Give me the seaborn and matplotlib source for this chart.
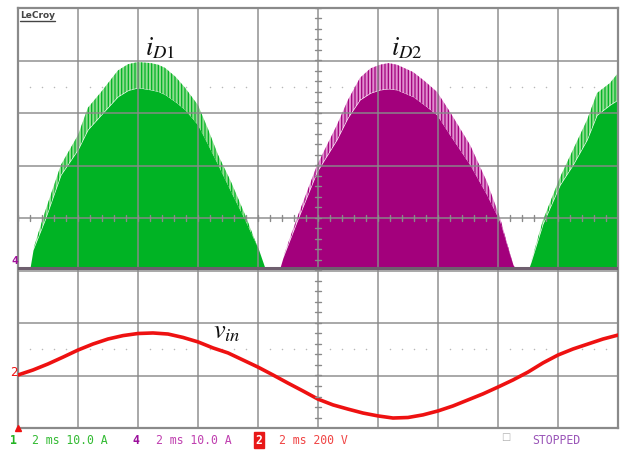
import numpy as np
import pandas as pd
import seaborn as sns
import matplotlib.pyplot as plt

# ---- scope settings ----
MS_PER_DIV = 2.0          # time base
AMP_PER_DIV = 10.0        # channels 1 and 4
VOLT_PER_DIV = 200.0      # channel 2
CUR_OFFSET_DIV = -0.95    # ground level of the current channels
VOLT_OFFSET_DIV = -3.0    # ground level of the voltage channel

# ---- diode current iD1 (channel 1), first conduction interval ----
t_d1 = [0.40, 0.50, 0.90, 1.43, 2.00, 2.33, 2.77, 3.33, 3.67, 4.00, 4.43,
        4.67, 4.90, 5.25, 5.57, 6.00, 6.33, 6.67, 7.10, 7.57, 8.00, 8.23]
peak_d1 = [0, 3.4, 10.7, 19.6, 25.3, 30.5, 33.5, 37.6, 38.8, 39.2, 39.0,
           38.7, 38.1, 36.4, 34.3, 31.0, 26.5, 21.5, 16.4, 10.1, 3.8, 0]
fill_d1 = [0, 3.4, 9.1, 17.7, 22.5, 26.3, 29.1, 32.6, 33.8, 34.3, 33.9,
           33.6, 33.0, 31.6, 30.1, 27.2, 23.5, 19.6, 14.5, 9.1, 3.8, 0]

# ---- diode current iD2 (channel 4) ----
t_d2 = [8.73, 8.83, 9.30, 9.97, 10.63, 11.00, 11.40, 11.75, 12.07, 12.35,
        12.63, 13.17, 13.55, 13.97, 14.40, 15.07, 15.63, 16.07, 16.50, 16.57]
peak_d2 = [0, 1.9, 9.5, 19.6, 27.2, 32.0, 36.2, 38.0, 38.7, 39.0,
           38.7, 37.3, 35.6, 33.5, 29.7, 23.4, 16.4, 9.5, 0.6, 0]
fill_d2 = [0, 1.9, 8.8, 18.3, 24.4, 28.6, 32.0, 33.3, 33.9, 34.1,
           33.9, 32.6, 31.0, 29.1, 25.3, 19.6, 13.9, 8.8, 0.6, 0]

# ---- iD1, next conduction interval ----
t_d1b = [17.03, 17.10, 17.50, 18.07, 18.50, 18.97, 19.30, 19.73, 20.00]
peak_d1b = [0, 1.1, 9.1, 17.3, 22.5, 28.2, 33.3, 35.2, 37.1]
fill_d1b = [0, 1.1, 8.4, 15.8, 19.6, 24.4, 29.1, 31.0, 32.0]

# ---- input voltage vin (channel 2) ----
t_vin = [0.0, 0.5, 1.0, 1.5, 2.0, 2.5, 3.0, 3.5, 4.0, 4.5, 5.0, 5.5,
         6.0, 6.5, 7.0, 7.5, 8.0, 8.5, 9.0, 9.5, 10.0, 10.5, 11.0, 11.5,
         12.0, 12.5, 13.0, 13.5, 14.0, 14.5, 15.0, 15.5, 16.0, 16.5, 17.0,
         17.5, 18.0, 18.5, 19.0, 19.5, 20.0]
v_vin = [2, 21, 44, 70, 97, 120, 139, 152, 160, 162, 158, 145,
         128, 105, 86, 59, 32, 2, -29, -59, -90, -112, -128, -143,
         -154, -162, -160, -150, -135, -116, -93, -70, -44, -17, 13,
         48, 78, 101, 120, 139, 154]

GREEN = "#00b324"
GREEN_LIGHT = "#8fdc8f"
MAGENTA = "#a3007c"
MAGENTA_LIGHT = "#e08fcf"
RED = "#ee1111"
GRID = "#8a8a8a"

sns.set_style("white")
plt.rcParams["hatch.linewidth"] = 0.9
plt.rcParams["mathtext.fontset"] = "stix"

W, H = 623, 451
fig = plt.figure(figsize=(W / 100, H / 100), dpi=100)
ax = fig.add_axes([18 / W, 23 / H, 600 / W, 420 / H])


def cur_div(a):
    return np.asarray(a, dtype=float) / AMP_PER_DIV + CUR_OFFSET_DIV


def volt_div(v):
    return np.asarray(v, dtype=float) / VOLT_PER_DIV + VOLT_OFFSET_DIV


# current traces: solid body plus the switching-ripple band on top
for t, pk, fl, c, cl in [(t_d1, peak_d1, fill_d1, GREEN, GREEN_LIGHT),
                         (t_d2, peak_d2, fill_d2, MAGENTA, MAGENTA_LIGHT),
                         (t_d1b, peak_d1b, fill_d1b, GREEN, GREEN_LIGHT)]:
    t = np.asarray(t, dtype=float)
    ax.fill_between(t, CUR_OFFSET_DIV, cur_div(fl), color=c, lw=0, zorder=2)
    ax.fill_between(t, cur_div(fl), cur_div(pk), facecolor=cl,
                    edgecolor=c, hatch="|||||", lw=0, zorder=2)

# zero-current baseline of channels 1 and 4
base = pd.DataFrame({"t": [0.0, 20.0], "y": [CUR_OFFSET_DIV, CUR_OFFSET_DIV]})
sns.lineplot(data=base, x="t", y="y", ax=ax, color="#6e5f6e", lw=2.2, zorder=3)

# input voltage
vin = pd.DataFrame({"t": t_vin, "y": volt_div(v_vin)})
sns.lineplot(data=vin, x="t", y="y", ax=ax, color=RED, lw=2.6, zorder=4)

# graticule
ax.set_xlim(0, 20)
ax.set_ylim(-4, 4)
ax.set_xticks(np.arange(0, 20.1, MS_PER_DIV))
ax.set_yticks(np.arange(-4, 4.1, 1))
ax.grid(True, color=GRID, lw=1.3, alpha=0.8, zorder=5)
ax.set_axisbelow(False)
ax.tick_params(length=0, labelbottom=False, labelleft=False)
ax.set_xlabel("")
ax.set_ylabel("")
for s in ax.spines.values():
    s.set_color(GRID)
    s.set_linewidth(1.6)

# minor marks on the centre axes
for yy in np.arange(-4, 4.01, 0.2):
    ax.plot([9.9, 10.1], [yy, yy], color=GRID, lw=1.0, zorder=5)
for xx in np.arange(0, 20.01, 0.4):
    ax.plot([xx, xx], [-0.06, 0.06], color=GRID, lw=1.0, zorder=5)

# dotted reference rows
dots_x = [x for x in np.arange(0.4, 20, 0.4) if abs(x / 2 - round(x / 2)) > 1e-6]
for yy in (2.5, -2.5):
    ax.scatter(dots_x, [yy] * len(dots_x), s=1.2, color="#b8b8b8", lw=0, zorder=1)

# trigger marker on the bottom edge
ax.plot([0.0], [-4.0], marker="^", color=RED, ms=5, clip_on=False, zorder=6)

# trace labels
ax.text(4.75, 3.1, r"$i_{\mathit{D1}}$", fontsize=19, ha="center", va="baseline",
        color="#111111", zorder=7)
ax.text(12.95, 3.1, r"$i_{\mathit{D2}}$", fontsize=19, ha="center", va="baseline",
        color="#111111", zorder=7)
ax.text(6.95, -2.3, r"$v_{in}$", fontsize=19, ha="center", va="baseline",
        color="#111111", zorder=7)


def ftext(x, y, s, **kw):
    fig.text(x / W, 1 - y / H, s, **kw)


mono = dict(family="DejaVu Sans Mono", fontsize=8.3, va="center")

# LeCroy tag
ftext(20, 16, "LeCroy", family="DejaVu Sans", fontsize=6.5, fontweight="bold",
      color="#444444", va="center")
fig.add_artist(plt.Line2D([20 / W, 55 / W], [1 - 21 / H, 1 - 21 / H],
                          color="#444444", lw=1.0))

# channel ground markers on the left edge
ftext(15, 261, "4", color="#a0109a", fontsize=8, ha="center", va="center",
      family="DejaVu Sans Mono", fontweight="bold")
ftext(14, 372, "2", color=RED, fontsize=9, ha="center", va="center",
      family="DejaVu Sans Mono")

# status line
ftext(13, 440, "1", color="#22b422", ha="center", fontweight="bold", **mono)
ftext(32, 440, "2 ms 10.0 A", color="#33bb33", ha="left", **mono)
ftext(136, 440, "4", color="#9b0f9b", ha="center", fontweight="bold", **mono)
ftext(156, 440, "2 ms 10.0 A", color="#c040b0", ha="left", **mono)
ftext(259, 440, "2", color="white", ha="center", fontweight="bold",
      bbox=dict(boxstyle="square,pad=0.12", fc="#e81818", ec="#e81818"), **mono)
ftext(279, 440, "2 ms 200 V", color="#f04444", ha="left", **mono)
ftext(506, 437, "\u25a1", color="#b0b0b0", ha="center", family="DejaVu Sans",
      fontsize=7, va="center")
ftext(532, 440, "STOPPED", color="#9a55b8", ha="left", **mono)

fig.savefig("out.png", dpi=100, facecolor="white")
